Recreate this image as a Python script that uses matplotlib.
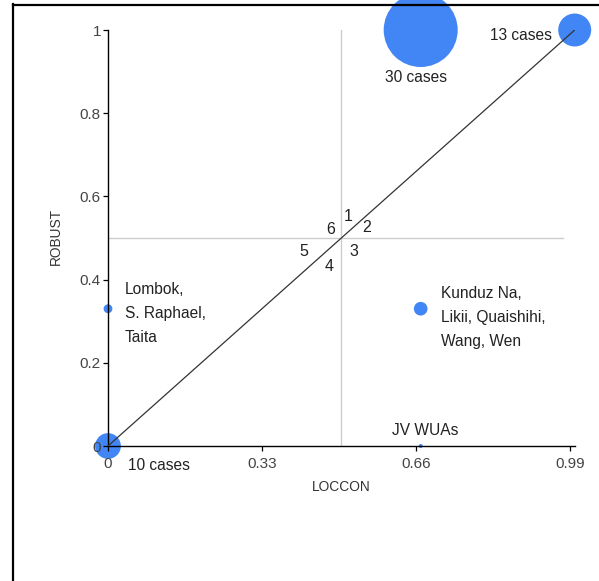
import matplotlib
matplotlib.use("Agg")
import matplotlib.pyplot as plt
from matplotlib.lines import Line2D

# ---- data ----
loccon = [0.0, 0.0, 0.67, 0.67, 0.67, 1.0]
robust = [0.0, 0.33, 0.0, 0.33, 1.0, 1.0]
cases = [10, 3, 1, 5, 30, 13]
labels = ["10 cases", "Lombok,\nS. Raphael,\nTaita", "JV WUAs",
          "Kunduz Na,\nLikii, Quaishihi,\nWang, Wen", "30 cases", "13 cases"]
x_ticks = [0, 0.33, 0.66, 0.99]
x_ticklabels = ["0", "0.33", "0.66", "0.99"]
y_ticks = [0, 0.2, 0.4, 0.6, 0.8, 1]
y_ticklabels = ["0", "0.2", "0.4", "0.6", "0.8", "1"]
region_nums = ["1", "2", "3", "4", "5", "6"]
x_title = "LOCCON"
y_title = "ROBUST"
center = (0.5, 0.5)

FONT = ["Liberation Sans", "DejaVu Sans"]
plt.rcParams["font.family"] = FONT

W, H = 599, 581
fig = plt.figure(figsize=(W / 100, H / 100), dpi=100)
ax = fig.add_axes([108 / W, (H - 446) / H, 466.7 / W, 416 / H])
ax.set_xlim(0, 1)
ax.set_ylim(0, 1)
ax.set_axisbelow(False)

# crosshair and diagonal
ax.plot([center[0], center[0]], [0, 1], color="#cccccc", lw=1.0, zorder=1)
ax.plot([0, 0.975], [center[1], center[1]], color="#cccccc", lw=1.0, zorder=1)
ax.plot([0, 1], [0, 1], color="#333333", lw=0.9, zorder=3)

# bubble sizes: radius in px scales linearly between min and max counts
rmin, rmax = 2.0, 37.0
cmin, cmax = min(cases), max(cases)
sizes = []
for c in cases:
    r = rmin + (c - cmin) / (cmax - cmin) * (rmax - rmin)
    d_pt = 2 * r * 72 / 100
    sizes.append(d_pt ** 2)
ax.scatter(loccon, robust, s=sizes, color="#4285f4", edgecolors="none",
           zorder=1.6, clip_on=False)

# labels
offsets = [(14.4, -13.7, "left"), (12.2, -3.5, "left"), (2.9, 11.5, "center"),
           (14.4, -6.3, "left"), (-3.6, -34.5, "center"), (-16.5, -4.3, "right")]
for xv, yv, lab, (dx, dy, ha) in zip(loccon, robust, labels, offsets):
    ax.annotate(lab, (xv, yv), xytext=(dx, dy), textcoords="offset points",
                ha=ha, va="center", fontsize=11.2, color="#222222",
                linespacing=1.76, multialignment="left", zorder=4,
                annotation_clip=False)

num_offsets = [(5.0, 15.5), (18.0, 7.5), (8.8, -9.5), (-9.0, -20.3),
               (-27.2, -9.5), (-7.8, 6.0)]
for n, (dx, dy) in zip(region_nums, num_offsets):
    ax.annotate(n, center, xytext=(dx, dy), textcoords="offset points",
                ha="center", va="center", fontsize=11.5, color="#222222",
                zorder=4)

# axes styling
for s in ["top", "right"]:
    ax.spines[s].set_visible(False)
for s in ["left", "bottom"]:
    ax.spines[s].set_color("black")
    ax.spines[s].set_linewidth(1.0)
ax.set_xticks(x_ticks)
ax.set_xticklabels(x_ticklabels)
ax.set_yticks(y_ticks)
ax.set_yticklabels(y_ticklabels)
ax.tick_params(axis="both", length=3.6, width=0.9, color="black",
               labelsize=11, labelcolor="#444444")
ax.tick_params(axis="y", pad=1.5)
ax.tick_params(axis="x", pad=4.5)
ax.set_facecolor("none")

fig.text(341 / W, 1 - 487 / H, x_title, ha="center", va="center",
         fontsize=9.9, color="#333333")
fig.text(56 / W, 1 - 236 / H, y_title, ha="center", va="center",
         rotation=90, fontsize=9.9, color="#333333")

# outer frame (left and top edges)
fig.add_artist(Line2D([12.5 / W, 12.5 / W], [0, 1 - 4 / H], color="black",
                      lw=1.6, transform=fig.transFigure))
fig.add_artist(Line2D([12.5 / W, 1], [1 - 4.5 / H, 1 - 4.5 / H],
                      color="black", lw=1.6, transform=fig.transFigure))

fig.savefig("out.png", dpi=100)
